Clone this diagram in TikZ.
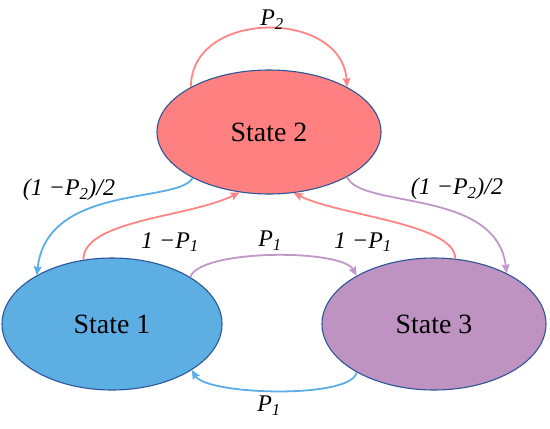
\documentclass[tikz,border=0pt]{standalone}
\usepackage{fontspec}
\setmainfont{Liberation Serif}
\usetikzlibrary{arrows.meta,shapes.geometric}
\definecolor{edge}{HTML}{2E5597}
\definecolor{redfill}{HTML}{FF8080}
\definecolor{bluefill}{HTML}{5DAFE3}
\definecolor{purpfill}{HTML}{BE93C1}
\definecolor{redline}{HTML}{FF8585}
\definecolor{blueline}{HTML}{5AAEE6}
\definecolor{purpline}{HTML}{C097C8}
\begin{document}
\begin{tikzpicture}[x=1bp,y=1bp,
  state/.style={ellipse,draw=edge,line width=1.1bp,inner sep=0pt,font=\fontsize{28}{32}\selectfont},
  trans/.style={line width=1.8bp,-{Stealth[length=9bp,width=8bp,inset=1.5bp]}},
  prob/.style={font=\fontsize{24}{28}\selectfont\itshape,inner sep=1pt}]
\useasboundingbox (0,0) rectangle (550,428);
\node[state,fill=redfill,minimum width=224bp,minimum height=124bp] (s2) at (269,296) {State 2};
\node[state,fill=bluefill,minimum width=220bp,minimum height=132bp] (s1) at (112,104) {State 1};
\node[state,fill=purpfill,minimum width=224bp,minimum height=132bp] (s3) at (434,104) {State 3};
\draw[trans,redline] (s2.150) .. controls +(0,78) and +(-5,78) .. (s2.30);
\draw[trans,blueline] (s2.211) .. controls +(-14,-26) and +(10,92) .. (s1.147);
\draw[trans,purpline] (s2.330) .. controls +(14,-32) and +(-10,85) .. (s3.35);
\draw[trans,redline] (s1.114) .. controls +(0,40) and +(-50,-25) .. (s2.244);
\draw[trans,redline] (s3.72) .. controls +(0,35) and +(47,-23) .. (s2.292);
\draw[trans,purpline] (s1.31) .. controls +(10,28) and +(-15,27) .. (s3.148);
\draw[trans,blueline] (s3.212) .. controls +(-5,-27) and +(15,-25) .. (s1.330);
\node[prob] (lp2) at (272,408) {P\textsubscript{2}};
\node[prob] (l12) at (69,238) {(1 −P\textsubscript{2})/2};
\node[prob] (r12) at (457,239) {(1 −P\textsubscript{2})/2};
\node[prob] (l1p) at (170,186) {1 −P\textsubscript{1}};
\node[prob] (mp1) at (270,187) {P\textsubscript{1}};
\node[prob] (r1p) at (363,186) {1 −P\textsubscript{1}};
\node[prob] (bp1) at (269,22) {P\textsubscript{1}};
\end{tikzpicture}
\end{document}
